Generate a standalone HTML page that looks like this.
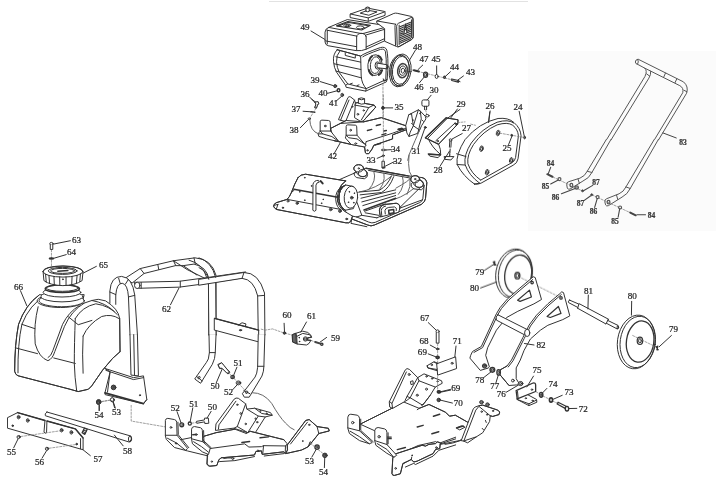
<!DOCTYPE html>
<html><head><meta charset="utf-8"><title>Parts diagram</title>
<style>
html,body{margin:0;padding:0;background:#fff;}
body{width:716px;height:479px;overflow:hidden;font-family:"Liberation Serif",serif;}
svg{display:block;}
svg path,svg ellipse,svg circle,svg line,svg polyline,svg rect,svg polygon{vector-effect:non-scaling-stroke;}
.t{font-family:"Liberation Serif",serif;}
.d{stroke-dasharray:2 1.5;stroke:#777;stroke-width:0.7;}
.f{fill:#fff;}
.k{fill:#333;}
.g{stroke:#888;stroke-width:0.7;}
</style></head><body>
<svg width="716" height="479" viewBox="0 0 716 479">
<rect x="0" y="0" width="716" height="479" fill="#ffffff" stroke="none"/>
<rect x="528" y="51" width="188" height="180" fill="#fbfbfb" stroke="none"/>
<line x1="269" y1="1.5" x2="528" y2="1.5" stroke="#e2e2e2" stroke-width="1"/>
<g fill="none" stroke="#333" stroke-width="1" stroke-linecap="round" stroke-linejoin="round" style="filter:blur(0.3px)">
<g transform="translate(320 0) scale(0.13986)"><!-- fuel tank -->
<path class="f" d="M62,196 L195,140 L440,178 Q458,186 460,205 L462,292 L330,352 Q300,366 258,362 L58,327 Q38,322 36,300 L36,230 Q38,203 62,196 Z"/>
<path d="M62,196 L285,238 Q300,242 315,238 L456,198"/>
<path d="M50,216 L262,258 M330,250 L460,210"/>
<path d="M52,215 L52,314 M262,262 Q265,238 300,238 Q328,240 330,262 M262,262 L262,358 M330,262 L330,352"/>
<path d="M38,292 L262,334 M330,336 L462,276"/>
<path stroke-width="1.1" d="M118,185 L200,154 L360,181 L298,214 Z"/>
<ellipse cx="195" cy="181" rx="25" ry="10"/><ellipse cx="195" cy="181" rx="12" ry="5"/>
<ellipse cx="288" cy="196" rx="27" ry="11"/>
<path d="M128,188 L200,160 L345,184"/>
<!-- air cleaner -->
<path class="f" d="M218,100 L333,60 Q342,56 352,60 L462,82 Q468,86 465,110 L345,152 L218,126 Z"/>
<path d="M218,100 L345,128 L465,84 M345,128 L345,152"/>
<path d="M290,93 L340,73 L408,85 L352,108 Z"/>
<path class="f" d="M329,80 L329,54 Q340,46 352,54 L352,82 Q340,88 329,80 Z"/>
<path d="M329,56 Q340,62 352,56"/>
<!-- muffler -->
<path class="f" d="M408,150 L528,96 Q540,92 552,95 L655,118 Q666,122 666,136 L667,262 Q667,276 655,283 L565,334 Q555,338 548,333 L462,295 L462,205 L408,165 Z"/>
<path d="M408,150 L540,173 M548,186 Q548,173 560,167 L650,126 Q663,121 664,136 L666,262 Q666,275 655,282 L565,333 Q553,338 552,325 Z"/>
<path d="M540,173 Q535,180 536,195 L540,325"/>
<path stroke-width="1.1" d="M572,192 L602,179 M618,172 L648,159 M572,205 L602,192 M618,185 L648,172 M572,218 L598,207 M622,196 L648,185 M572,231 L596,221 M624,209 L648,198 M572,244 L594,235 M626,221 L648,211 M572,257 L648,224 M572,270 L648,237 M572,283 L648,250 M572,296 L648,263 M572,309 L648,276"/>
<path stroke-width="1.2" d="M610,172 L600,240 M612,172 L622,232 M604,215 L620,208"/>
<path d="M566,180 L566,318 M654,142 L655,270"/></g>
<g transform="translate(300 40) scale(0.16760)"><!-- crankcase & cylinder -->
<path class="f" d="M222,58 L362,96 Q380,80 480,45 Q510,38 518,60 Q527,100 524,180 L520,235 L515,250 L392,305 L275,282 L272,270 L218,192 Q203,165 200,130 Q195,85 222,58 Z"/>
<path d="M240,62 Q215,90 218,130 Q220,165 235,195 L285,262"/>
<path d="M222,58 L362,96 L365,215 Q368,262 395,290"/>
<path d="M214,100 L362,132 M204,142 L363,176 M214,185 L366,226"/>
<path d="M272,270 L285,262 L395,290 L505,240 M395,290 L392,305 M505,240 L520,235"/>
<path d="M375,100 Q390,88 480,56 Q505,50 510,70 Q517,110 514,180 L512,232"/>
<path d="M300,262 L312,258 M340,272 L352,268"/>
<path d="M270,78 L270,92 L330,108 L330,92"/>
<!-- flange -->
<ellipse class="f" cx="447" cy="150" rx="42" ry="62" transform="rotate(6 447 150)"/>
<ellipse cx="450" cy="150" rx="30" ry="50" transform="rotate(6 450 150)"/>
<path stroke-width="2" stroke="#333" d="M413,122 Q417,104 430,96 M410,178 Q416,202 432,210 M466,94 Q482,100 488,118 M470,208 Q484,200 490,180"/>
<ellipse class="f" cx="462" cy="152" rx="14" ry="22"/>
<path class="f" d="M462,138 L520,148 Q526,160 520,172 L462,166 Z"/>
<ellipse cx="520" cy="160" rx="5" ry="12"/>
<path d="M497,232 L500,246 L514,240"/>
<!-- pulley 48 -->
<ellipse class="f" cx="591" cy="184" rx="58" ry="96" transform="rotate(7 591 184)"/>
<ellipse class="f" cx="603" cy="180" rx="60" ry="97" transform="rotate(7 603 180)"/>
<ellipse cx="602" cy="181" rx="50" ry="84" transform="rotate(7 602 181)"/>
<ellipse cx="597" cy="182" rx="55" ry="92" transform="rotate(7 597 182)"/>
<ellipse cx="612" cy="183" rx="29" ry="42" stroke="#444" stroke-width="1.6" transform="rotate(7 612 183)"/>
<ellipse cx="613" cy="183" rx="19" ry="28" transform="rotate(7 613 183)"/>
<ellipse cx="614" cy="183" rx="10" ry="15" transform="rotate(7 614 183)"/>
<!-- small parts -->
<path class="d" d="M495,262 L495,477"/>
<ellipse class="k" cx="495" cy="405" rx="8" ry="9"/>
<path d="M507,405 L553,405"/>
<ellipse cx="210" cy="275" rx="9" ry="9" fill="#555"/>
<ellipse cx="230" cy="300" rx="8" ry="9" stroke-width="1.4"/>
<ellipse cx="252" cy="328" rx="8" ry="10"/><ellipse cx="252" cy="328" rx="3" ry="4"/>
<path d="M120,248 L198,272 M165,318 L221,303 M215,365 L247,337 M57,340 L92,376 M688,62 L652,122"/>
<path class="f" d="M92,372 L108,370 L112,382 L104,386 L98,406 L88,404 L94,386 Z"/></g>
<g transform="translate(0 0) scale(1.00000)"><path d="M311,31 L325,39.5"/></g>
<g transform="translate(290 95) scale(0.16760)"><!-- back-left upright bracket -->
<path class="f" d="M290,145 L346,15 Q352,6 362,12 L385,30 L390,48 L412,44 L500,60 L512,72 L440,152 L425,160 L340,160 Z"/>
<path d="M385,30 L332,158 M390,48 L385,135 L425,160 M390,48 L412,44 L500,60 L512,72 L440,152 M385,60 L470,75 L500,60 M470,75 L425,150"/>
<path d="M302,150 L352,30"/>
<circle cx="405" cy="115" r="5"/><circle cx="440" cy="92" r="4"/><circle cx="372" cy="70" r="3"/>
<path class="f" d="M408,48 L408,22 Q425,12 445,22 L445,52 Q425,60 408,48 Z"/><path d="M408,24 Q425,34 445,24"/>
<!-- plate -->
<path class="f" d="M245,198 L300,170 L335,152 L440,160 L545,135 L705,188 L700,205 L612,238 L612,262 L500,300 L490,322 L470,350 Q452,352 450,345 L445,310 L365,295 L300,280 L262,272 Z"/>
<path d="M245,198 L300,170 L335,152 M440,160 L545,135 L705,188 L700,205 L612,238 L612,262 L500,300 L490,322 L470,350 Q452,352 450,345 L445,310 M455,278 L612,228 L700,195 M455,278 L445,310 M300,170 L440,160"/>
<path stroke-width="1.4" d="M462,212 L488,205 M515,182 L540,176 M548,238 L572,230 M645,205 L668,198 M510,298 L540,290 M560,215 L575,212"/>
<circle cx="462" cy="330" r="4"/>
<!-- left tab -->
<path class="f" d="M180,215 L180,160 Q180,150 190,150 L230,152 Q240,153 240,163 L242,215 L292,278 L262,272 L220,262 L172,247 L168,232 Z"/>
<path d="M180,215 L242,215 M180,215 L195,232 L250,248 L292,278 M168,232 L195,232"/>
<circle cx="210" cy="185" r="5"/>
<!-- middle tab -->
<path class="f" d="M335,240 L335,188 Q335,178 345,178 L390,180 Q398,181 398,190 L400,240 L445,292 L455,298 L445,310 L365,295 L332,258 Z"/>
<path d="M335,240 L400,240 M335,240 L350,255 L400,262 L445,292 M262,272 L365,295"/>
<circle cx="362" cy="210" r="5"/><ellipse cx="392" cy="290" rx="6" ry="4"/>
<!-- 36,37,38 -->
<path class="f" d="M150,42 L168,40 L172,52 L165,56 L158,78 L148,76 L154,56 Z"/>
<path d="M130,25 L152,42"/>
<path stroke-width="1.5" d="M125,100 L148,103"/><path d="M78,97 L122,100"/>
<ellipse cx="115" cy="142" rx="7" ry="5"/><path d="M62,195 L108,148"/>
<path d="M118,148 Q120,215 170,232" stroke="#666"/>
<path class="d" d="M155,80 L118,138"/>
<!-- 34 33 32 -->
<ellipse cx="558" cy="328" rx="14" ry="5"/><path d="M575,328 L605,326"/>
<ellipse class="k" cx="557" cy="362" rx="6" ry="5"/><path d="M520,378 L550,365"/>
<path class="f" d="M551,395 L563,395 L563,432 L551,432 Z"/><ellipse cx="557" cy="434" rx="9" ry="4"/><path d="M568,425 L622,398"/>
<path class="d" d="M557,0 L557,60 M557,95 L557,320 M557,340 L557,392"/>
<path d="M300,285 L262,352"/></g>
<g transform="translate(380 55) scale(0.16760)"><path class="d" d="M185,88 L480,160"/>
<path stroke-width="2" stroke="#333" d="M202,91 L232,98"/><path d="M255,60 L226,88"/>
<ellipse class="f" cx="272" cy="118" rx="12" ry="16" stroke-width="1.3"/><ellipse cx="273" cy="118" rx="6" ry="9"/><path d="M236,165 L264,131"/>
<ellipse class="f" cx="338" cy="128" rx="9" ry="12"/><path d="M338,65 L338,116"/>
<ellipse cx="385" cy="133" rx="5" ry="7" stroke-width="1.3"/><path d="M420,100 L390,128"/>
<path class="f" stroke-width="1.2" d="M428,143 L468,152 L466,162 L428,152 Z"/><ellipse cx="468" cy="157" rx="4" ry="6"/><path d="M498,125 L464,150"/>
<!-- 30 cap -->
<path class="f" d="M250,276 Q250,268 260,268 L284,268 Q292,268 292,276 L292,298 Q292,306 284,306 L260,306 Q250,306 250,298 Z"/>
<path d="M266,306 L266,326 M278,306 L278,326"/><path d="M305,240 L282,268"/>
<path class="d" d="M272,326 L278,352"/>
<path d="M462,322 L420,378 M655,340 L647,405"/></g>
<g transform="translate(370 100) scale(0.12570)"><path class="f" d="M285,200 L308,118 L385,78 L400,88 L440,130 L445,150 L410,205 L395,240 L380,265 L310,290 L295,265 Z"/>
<path d="M330,108 L345,205 L320,255 L310,290 M385,78 L345,205 M308,118 L330,108 M345,205 L395,240 M400,88 L408,150 L380,265"/>
<circle class="k" cx="340" cy="160" r="3"/><circle class="k" cx="398" cy="108" r="3"/><path d="M330,185 L340,195 M415,160 L425,170"/>
<path stroke-width="1.4" d="M225,232 L262,228 M235,240 L270,236"/>
<ellipse class="f" cx="456" cy="125" rx="14" ry="10"/>
<ellipse class="k" cx="440" cy="218" rx="8" ry="7"/>
<path d="M382,380 L435,228"/>
<path stroke="#666" d="M395,240 Q355,330 330,390 Q305,440 300,480"/></g>
<g transform="translate(400 100) scale(0.18855)"><path stroke="#666" d="M48,292 Q42,340 50,380 Q58,400 72,412"/></g>
<g transform="translate(400 100) scale(0.18855)"><!-- belt cover 26 -->
<path class="f" d="M395,446 Q335,405 303,342 Q295,290 345,210 Q420,120 520,98 Q575,92 605,120 Q640,150 642,190 L626,312 Q622,336 600,346 L430,441 Q410,450 395,446 Z"/>
<path d="M422,441 Q365,400 345,342 Q338,290 378,228 Q435,150 515,118 Q575,100 603,122"/>
<path d="M428,425 Q378,390 360,338 Q354,292 390,236 Q440,165 515,132 Q570,115 598,134 Q625,155 628,190 L613,305 Q610,325 592,333 L428,425"/>
<path d="M300,285 L350,300 M303,342 L345,345 M395,446 L422,441"/>
<ellipse cx="520" cy="175" rx="9" ry="15" transform="rotate(15 520 175)"/><ellipse cx="521" cy="176" rx="5" ry="10" transform="rotate(15 521 176)"/>
<ellipse cx="432" cy="258" rx="9" ry="15" transform="rotate(15 432 258)"/><ellipse cx="433" cy="259" rx="5" ry="10" transform="rotate(15 433 259)"/>
<ellipse cx="590" cy="320" rx="9" ry="15" transform="rotate(15 590 320)"/><ellipse cx="591" cy="321" rx="5" ry="10" transform="rotate(15 591 321)"/>
<ellipse cx="462" cy="383" rx="9" ry="15" transform="rotate(15 462 383)"/><ellipse cx="463" cy="384" rx="5" ry="10" transform="rotate(15 463 384)"/>
<path class="d" d="M530,176 L655,198"/>
<ellipse class="k" cx="593" cy="188" rx="4" ry="6"/><path d="M576,236 L592,196"/>
<ellipse cx="661" cy="199" rx="5" ry="7" fill="#666"/><path d="M632,60 L659,192"/>
<path d="M478,58 L470,120"/>
<!-- belt guard 29 -->
<path class="f" d="M135,200 L245,95 L308,105 L306,128 L205,234 Z"/>
<path stroke-width="1.5" stroke="#333" d="M135,200 L245,95"/>
<path d="M245,95 L308,105 L306,128 L205,234 L135,200 M292,122 L190,216 M292,122 L306,128 M248,100 L150,200"/>
<circle cx="297" cy="128" r="4"/><circle cx="200" cy="218" r="4"/>
<path d="M150,206 Q170,252 212,286 M205,234 Q218,262 216,290 M150,286 L216,290 L202,306 L160,298 Z" />
<path stroke-width="1.4" d="M152,288 L214,292"/>
<path d="M236,300 L286,300 L270,318 L240,315 Z M262,300 L266,262"/>
<ellipse cx="268" cy="212" rx="7" ry="6"/><path d="M264,218 L262,250 M272,218 L270,250"/><path class="d" d="M266,250 L266,300"/>
<path d="M330,178 L276,207 M212,352 L262,272 M318,50 L250,98"/>
<path class="d" d="M305,120 L345,116 M375,128 L400,134"/></g>
<g transform="translate(335 160) scale(0.16760)"><path class="f" d="M20,120 L185,48 L440,95 L520,105 Q545,110 548,135 L540,230 Q538,250 515,265 L235,388 Q215,398 195,388 L100,352 L0,330 L0,140 Z"/>
<path stroke-width="1.3" d="M185,50 L440,96"/><path d="M200,62 L450,108"/>
<path d="M520,105 Q545,110 548,135 L540,230 Q538,250 515,265 L235,388 Q215,398 195,388 L100,352"/>
<path d="M532,150 L524,232 Q522,246 506,254 L240,372 Q220,380 200,370 L130,340"/>
<path d="M505,168 L380,290 L520,238 M380,290 L250,345"/>
<!-- ribs -->
<path stroke="#666" d="M232,68 Q250,125 200,178 M292,78 Q305,150 240,200 M350,88 Q362,145 318,190 M402,98 Q420,155 378,205 M448,110 Q455,160 430,205 M130,195 Q250,172 332,100 M180,240 Q300,210 395,150 Q430,130 448,112 M300,250 Q400,230 470,170"/>
<!-- belt -->
<path class="f" stroke="none" d="M146,191 L266,180 Q312,154 338,94 L362,100 Q360,150 362,228 L173,298 Z"/>
<path d="M146,191 L266,180 Q312,154 338,94 M150,208 L278,194 Q325,168 350,100 M155,228 L362,178 M160,250 L362,196 M166,272 L362,212"/>
<path stroke-width="1.5" stroke="#333" d="M173,298 L362,228"/>
<path d="M176,306 L300,262"/>
<!-- lifting handle -->
<path class="f" d="M270,338 L265,300 Q268,270 300,265 L365,258 Q392,262 386,292 L380,310 Z"/>
<path d="M270,338 L265,300 Q268,270 300,265 L365,258 Q392,262 386,292 M300,322 L298,302 Q300,286 320,283 L355,280 Q372,284 366,302 M280,338 L276,302 Q278,280 302,275"/>
<path stroke-width="1.5" d="M320,300 L350,296 L352,315 L322,320 Z"/>
<!-- shock mounts -->
<path class="f" d="M112,52 Q112,30 140,28 Q168,28 170,48 L192,78 Q192,98 168,100 Q150,100 140,90 Z"/>
<ellipse cx="141" cy="50" rx="29" ry="22"/><ellipse cx="166" cy="78" rx="26" ry="21"/><circle cx="142" cy="50" r="4"/>
<path d="M115,75 Q110,95 130,105 L175,112 Q195,105 195,88"/>
<path class="f" d="M452,118 Q452,95 478,93 Q504,93 506,114 L528,142 Q528,162 505,165 Q488,165 478,155 Z"/>
<ellipse cx="478" cy="115" rx="26" ry="21"/><ellipse cx="503" cy="142" rx="25" ry="21"/><circle cx="478" cy="114" r="4"/>
<path d="M455,140 Q450,162 470,172 L515,178 Q532,170 532,152"/>
<!-- exciter disc -->
<path class="f" d="M60,150 Q20,170 22,230 Q25,280 60,300 L110,290 L130,220 L110,160 Z"/>
<path d="M62,150 Q22,172 24,230 Q27,280 62,300 M50,155 Q12,178 14,232 Q17,280 50,300 M38,160 Q2,185 4,235 Q7,282 38,302"/>
<ellipse class="f" cx="95" cy="222" rx="40" ry="66" transform="rotate(5 95 222)"/>
<circle cx="100" cy="225" r="8"/><circle cx="100" cy="225" r="3" class="k"/><circle cx="85" cy="190" r="2" class="k"/><circle cx="112" cy="255" r="2" class="k"/><circle cx="80" cy="252" r="2" class="k"/><circle cx="115" cy="198" r="2" class="k"/>
<path d="M130,250 L160,330 L130,340 M60,300 L75,330 L130,340 M100,352 L95,378 L190,398"/>
<path stroke-width="1.5" d="M62,355 L80,348"/>
<path d="M160,330 L250,345 M180,315 L260,330"/></g>
<g transform="translate(262 165) scale(0.16760)"><path class="f" d="M215,75 Q230,55 260,55 L500,95 L470,125 L450,215 L490,275 L540,305 L530,335 Q520,350 500,345 L85,265 L70,250 Q65,235 85,225 L150,205 Q165,190 175,165 Q195,110 215,75 Z"/>
<path d="M215,75 Q230,55 260,55 L500,95 M215,75 Q195,110 175,165 Q165,190 150,205 L85,225 Q65,235 70,250 L85,265 L500,345 Q520,350 530,335 L540,305"/>
<path stroke-width="1.5" stroke="#333" d="M190,145 L452,192"/>
<path d="M150,205 L470,265 M95,235 L85,265 M75,240 L95,235 M175,165 L192,150"/>
<path class="f" d="M305,112 Q312,90 337,92 L342,102 Q326,102 322,120 L322,270 Q314,282 305,272 Z"/>
<path stroke-width="2" stroke="#333" d="M350,96 L362,110"/>
<circle cx="155" cy="215" r="6"/><circle cx="210" cy="228" r="7"/><circle cx="210" cy="228" r="3"/><circle class="k" cx="125" cy="255" r="4"/><circle cx="410" cy="265" r="8"/><circle cx="410" cy="265" r="3"/><circle cx="465" cy="275" r="8"/><circle cx="465" cy="275" r="3"/><ellipse class="k" cx="505" cy="322" rx="6" ry="4"/>
<circle class="k" cx="255" cy="76" r="2"/><circle class="k" cx="295" cy="125" r="2"/><circle class="k" cx="395" cy="155" r="2"/><circle class="k" cx="255" cy="210" r="2"/><circle class="k" cx="355" cy="228" r="2"/><circle class="k" cx="225" cy="160" r="2"/><circle class="k" cx="365" cy="205" r="2"/>
<path d="M500,95 Q470,110 455,160"/>
<g transform="translate(435.6 -29.8)"><path d="M62,150 Q22,172 24,230 Q27,280 62,300 M50,155 Q12,178 14,232 Q17,280 50,300 M38,160 Q2,185 4,235 Q7,282 38,302"/></g></g>
<g transform="translate(536 55) scale(0.25140)"><g stroke="#555">
<path fill="#fbfbfb" d="M405,17 Q395,18 395,28 Q396,36 404,37 L432,52 Q444,62 433.6,85 L278.8,340 L297.2,340 L449,92 Q458,78 456,64 L572,122 Q588,130 583.7,150 L469.3,340 L486,340 L599,152 Q608,125 588,108 Z"/>
<path stroke="#fbfbfb" stroke-width="1.5" d="M280,340 L296,340 M470.5,340 L485,340"/>
<path d="M432,52 L456,64 M404,37 Q410,28 405,17 M515,72 L508,88 M560,95 L553,110 M440,75 L452,84 M588,140 L600,146"/>
<path d="M558,330 L505,310" stroke="#444"/>
</g></g>
<g transform="translate(536 140) scale(0.19553)"><g stroke="#555">
<path fill="#fbfbfb" d="M360,-3 L262,160 Q250,185 225,195 L168,213 Q155,216 157,228 L160,246 Q163,254 174,251 L240,210 Q272,196 286,166 L383.5,-3"/>
<path fill="#fbfbfb" d="M605,-3 L460,240 Q448,265 425,275 L362,300 Q350,304 352,316 L356,332 Q360,340 370,336 L440,292 Q468,278 482,248 L626,-3"/>
<path d="M215,200 L222,222 M412,282 L418,304 M262,160 L286,166 M460,240 L482,248"/>
<ellipse cx="181" cy="231" rx="7" ry="9" stroke-width="1.3"/><ellipse cx="371" cy="318" rx="7" ry="9" stroke-width="1.3"/>
<path class="d" d="M88,190 L240,262 M285,280 L500,380"/>
<path stroke-width="2" stroke="#444" d="M58,175 L84,188"/><path stroke-width="2" stroke="#444" d="M482,371 L510,385"/>
<circle class="f" cx="120" cy="200" r="7.5" stroke-width="1.2"/><circle cx="208" cy="243" r="9" fill="#999" stroke-width="1.2"/><circle class="k" cx="238" cy="260" r="5"/><circle class="k" cx="285" cy="280" r="5"/><circle class="f" cx="315" cy="292" r="7.5" stroke-width="1.2"/><circle class="f" cx="430" cy="345" r="7.5" stroke-width="1.2"/>
<g stroke="#444" stroke-width="1.1"><path d="M75,140 L63,172 M75,225 L114,205 M130,275 L200,248 M290,232 L245,258 M245,310 L280,285 M300,345 L313,300 M420,395 L428,352 M560,382 L516,382"/></g>
</g></g>
<g transform="translate(0 295) scale(0.19553)"><path class="f" d="M200,0 Q130,50 95,150 Q75,250 75,390 Q78,408 92,413 L358,482 L400,494 L452,482 L469,465 L525,384 L576,324 L614,290 L612,120 Q605,70 540,30 Q500,15 470,28 L420,45 L430,0 Z"/>
<path d="M200,0 Q130,50 95,150 Q75,250 75,390 Q78,408 92,413 L358,482 L400,494 L452,482 L469,465 L525,384 L576,324 L614,290"/>
<path d="M235,0 Q150,50 112,150 Q90,250 92,398"/>
<path d="M195,60 Q172,150 180,250 Q200,320 245,336 Q268,328 280,290 L330,160 Q365,80 430,42"/>
<path d="M246,320 Q262,312 270,285 L320,150 Q352,85 405,55 M112,150 L178,172"/>
<path d="M78,270 L192,300 M275,322 L385,350 M385,120 Q380,250 380,350 Q382,420 392,490 M425,210 Q420,300 425,400"/>
<path d="M385,120 Q420,60 490,45 Q560,55 600,100 M350,112 L400,152 L470,130 M470,28 Q540,40 585,85"/>
<path d="M425,210 Q450,150 520,110 Q570,95 608,120 M614,290 L612,120"/>
<ellipse class="f" cx="310" cy="30" rx="120" ry="34"/></g>
<g transform="translate(0 232) scale(0.16760)"><ellipse class="f" cx="368" cy="410" rx="135" ry="36"/>
<ellipse class="f" cx="370" cy="385" rx="125" ry="32"/>
<ellipse class="f" cx="370" cy="360" rx="113" ry="28"/>
<ellipse class="f" cx="372" cy="338" rx="102" ry="23" stroke-width="1.6" stroke="#333"/>
<ellipse cx="372" cy="334" rx="96" ry="20"/>
<path class="f" d="M257,235 L262,290 Q300,318 375,320 Q450,318 490,290 L495,240 Q495,205 375,203 Q257,205 257,235 Z"/>
<ellipse cx="376" cy="236" rx="119" ry="33"/>
<ellipse cx="374" cy="232" rx="86" ry="21"/><ellipse cx="374" cy="232" rx="72" ry="15"/>
<path stroke-width="1.5" d="M345,234 L405,230"/>
<path d="M272,252 L276,300 M292,260 L296,308 M322,266 L324,315 M356,268 L357,318 M394,268 L394,318 M430,265 L428,313 M460,258 L456,305 M480,250 L476,295"/>
<circle class="k" cx="375" cy="282" r="2.5"/>
<path class="d" d="M307,106 L307,205"/>
<ellipse class="f" cx="307" cy="70" rx="10" ry="8"/><path class="f" d="M300,76 L300,104 L315,104 L315,76"/>
<ellipse cx="307" cy="158" rx="13" ry="4" stroke-width="1.3"/>
<path d="M420,52 L320,72 M395,135 L320,157 M575,205 L497,245 M122,350 L160,440"/></g>
<g transform="translate(0 396) scale(0.19553)"><path class="f" d="M240,82 L670,205 Q678,220 662,236 L232,101 Q226,92 240,82 Z"/>
<ellipse cx="665" cy="220" rx="8" ry="15"/>
<path class="f" d="M40,110 L90,85 L230,125 L225,185 Q232,194 238,188 L240,128 L385,168 L425,215 L425,275 L40,165 Z"/>
<path stroke-width="1.5" stroke="#333" d="M90,85 L230,125 M240,128 L385,168 L425,215"/>
<path d="M412,218 L412,270"/>
<ellipse cx="95" cy="108" rx="7" ry="9"/><ellipse cx="142" cy="125" rx="7" ry="9"/><ellipse cx="315" cy="175" rx="7" ry="9"/><ellipse cx="365" cy="186" rx="7" ry="9"/>
<ellipse cx="95" cy="108" rx="3" ry="4"/><ellipse cx="142" cy="125" rx="3" ry="4"/><ellipse cx="315" cy="175" rx="3" ry="4"/><ellipse cx="365" cy="186" rx="3" ry="4"/>
<circle class="k" cx="65" cy="152" r="4"/><circle class="k" cx="392" cy="246" r="4"/>
<path class="f" stroke-width="1.3" d="M420,188 L432,164 L446,170 L434,196 Z"/><path d="M424,182 L438,188 M428,174 L442,180"/>
<circle class="f" cx="95" cy="210" r="8"/><circle cx="100" cy="208" r="4"/><circle class="f" cx="240" cy="270" r="8"/><circle cx="245" cy="268" r="4"/>
<path class="d" d="M108,207 L308,178 M252,267 L388,248"/>
<path d="M70,265 L92,220 M215,318 L238,280 M462,305 L422,273 M630,255 L585,200"/>
<circle cx="505" cy="30" r="12" fill="#555"/><circle cx="505" cy="30" r="5" fill="#fff"/><path d="M507,45 L507,75"/>
<circle class="f" cx="575" cy="20" r="10"/><path d="M580,32 L590,62"/>
<path class="d" d="M520,28 L562,22"/></g>
<g transform="translate(105 250) scale(0.19553)"><!-- back tube -->
<path class="f" d="M110,140 L180,95 L350,55 L460,40 Q545,45 568,130 L568,436 L532,436 L532,150 Q520,85 455,72 L400,80 L360,80 L200,120 L140,168 Z"/>
<path d="M350,55 L420,100 L525,152 M400,80 L470,128 M430,52 Q500,70 520,140 M180,95 L200,120 M270,74 L275,100 M350,55 L362,80 M455,40 L462,72"/>
<!-- front bar -->
<path class="f" d="M150,165 L380,160 L530,140 L720,112 L720,140 L530,170 L380,190 L165,196 Z"/>
<ellipse class="f" cx="165" cy="181" rx="14" ry="16"/>
<path d="M385,160 L385,190 M530,140 L532,170 M185,166 L185,196"/>
<!-- left inverted U -->
<path class="f" d="M25,272 L25,210 Q30,135 85,135 Q140,140 152,230 L166,436 L128,436 L120,240 Q116,175 88,170 Q60,170 55,230 L55,278"/>
<path d="M25,215 L55,228 M152,232 L120,240 M70,145 L78,172 M120,150 L104,175"/>
<path d="M335,280 L378,195"/></g>
<g transform="translate(200 250) scale(0.19553)"><path class="f" d="M45,150 L80,140 L82,436 L47,436 Z"/>
<path class="f" d="M-5,150 L225,115 Q300,115 330,220 L332,436 L298,436 L295,235 Q275,150 215,145 L-5,180 Z"/>
<path d="M225,115 L215,145 M295,235 L330,232"/>
<path d="M-5,40 Q60,60 80,140 M-5,90 Q35,110 45,150"/>
<path class="f" d="M75,350 L300,410 L300,470 L75,410 Z"/>
<path stroke-width="1.4" d="M75,350 L300,410"/>
<path d="M195,385 L215,372 L235,378 L232,392"/><ellipse class="k" cx="207" cy="410" rx="6" ry="3"/></g>
<g transform="translate(95 335) scale(0.19553)"><path class="f" stroke="none" d="M179,-2 L184,205 L222,209 L217,-2 Z"/><path d="M179,-2 L184,205 L222,209 L217,-2 M198,-2 L202,206"/>
<path class="f" d="M51,171 L197,218 L248,209 L265,330 L248,352 L52,305 L51,295 L77,190 Z"/>
<path d="M56,181 L197,228 L248,218 M77,190 L64,292 M248,350 L265,330"/>
<path stroke-width="1.6" stroke="#333" d="M51,296 L248,351"/>
<circle cx="95" cy="268" r="12" fill="#555"/><circle cx="92" cy="266" r="5" fill="#ddd"/>
<circle class="k" cx="230" cy="308" r="3"/>
<circle class="f" cx="88" cy="330" r="9"/><circle cx="18" cy="345" r="10" fill="#555"/><circle cx="18" cy="345" r="4" fill="#fff"/>
<path class="d" d="M32,342 L78,332 M185,360 L185,440 L360,470"/>
<path d="M22,360 L22,385 M92,342 L100,372"/>
<!-- back post foot (left-back) -->
<path class="f" stroke="none" d="M583,-2 L585,90 Q582,130 570,140 L510,225 L540,247 L600,150 Q615,120 615,90 L619,-2 Z"/><path d="M583,-2 L585,90 Q582,130 570,140 L510,225 L540,247 L600,150 Q615,120 615,90 L619,-2"/>
<path d="M585,90 L615,90 M520,212 L548,235"/><ellipse cx="532" cy="218" rx="5" ry="7" transform="rotate(35 532 218)"/>
<!-- bolt 50 upper -->
<path class="f" d="M630,150 L648,142 L660,158 L690,190 L680,200 L650,170 L640,172 Z"/>
<path d="M620,245 L650,175"/>
<!-- lower row 52 51 50 --></g>
<g transform="translate(215 335) scale(0.19553)"><path class="f" stroke="none" d="M221,-2 L218,165 Q215,200 205,215 L140,300 L150,318 L175,318 L240,210 Q250,185 250,160 L255,-2 Z"/><path d="M221,-2 L218,165 Q215,200 205,215 L140,300 L150,318 L175,318 L240,210 Q250,185 250,160 L255,-2"/>
<path d="M218,160 L250,160 M148,285 L178,300"/><ellipse cx="162" cy="293" rx="5" ry="7" transform="rotate(35 162 293)"/>
<path class="f" d="M18,152 L34,142 L45,155 L72,188 L62,196 L36,170 L26,170 Z"/>
<ellipse cx="90" cy="215" rx="9" ry="8" stroke-width="1.3"/><ellipse cx="90" cy="215" rx="4" ry="3"/>
<ellipse cx="120" cy="245" rx="12" ry="10"/><ellipse cx="120" cy="245" rx="5" ry="4"/>
<path class="d" d="M72,195 L160,290"/>
<path d="M112,165 L95,207 M90,280 L115,253"/>
<path stroke="#666" d="M190,295 Q250,295 290,350 Q330,420 360,450 Q385,478 405,485"/></g>
<g transform="translate(265 300) scale(0.12570)"><path class="d" d="M-30,232 L0,240 L60,230 L150,262 L220,280 M368,322 L400,335"/>
<circle cx="155" cy="263" r="10" fill="#444"/>
<path class="f" d="M220,275 L245,265 L300,248 L340,258 L365,280 L370,296 L342,300 L338,320 L366,320 L350,346 L330,358 L255,350 L222,335 Z"/>
<path fill="#666" d="M220,275 L245,265 L250,345 L222,335 Z"/>
<path d="M245,265 L252,290 L300,266 L355,276 L368,294 M252,290 L256,350"/>
<circle cx="322" cy="310" r="17"/><circle cx="322" cy="310" r="8"/><path d="M338,302 L368,298 M338,318 L364,322"/>
<circle class="k" cx="272" cy="300" r="2.5"/><circle class="k" cx="274" cy="330" r="2.5"/>
<path stroke-width="2" stroke="#444" d="M400,334 L440,347"/><circle class="f" cx="452" cy="352" r="9" stroke-width="1.3"/>
<path d="M152,185 L155,252 M330,175 L285,255 M490,298 L438,335"/></g>
<g transform="translate(150 396) scale(0.17458)"><!-- back-left upright -->
<path class="f" d="M375,195 L378,160 L482,18 Q492,8 506,13 L548,45 L555,75 L600,70 L690,95 L700,110 L660,120 L600,215 L560,210 L480,185 Z"/>
<path d="M548,45 L500,175 L480,185 M392,190 L395,165 L492,30 M555,75 L620,115 L660,120 M620,115 L560,210 M600,70 L640,100 L700,110 M500,175 L560,210"/>
<circle cx="500" cy="50" r="4"/><circle cx="520" cy="100" r="5"/><circle cx="548" cy="160" r="4"/><circle cx="605" cy="130" r="4"/><circle cx="614" cy="150" r="4"/><circle cx="632" cy="85" r="3"/><circle cx="668" cy="100" r="3"/>
</g><g transform="translate(200 425) scale(0.139665)">
<path class="f" d="M30,80 L115,55 L250,30 L330,60 L360,45 L540,90 L600,105 L625,135 L612,150 L610,205 L600,192 L445,210 L440,185 L400,190 L390,215 L150,235 L135,250 L120,290 L70,295 L50,280 L55,180 L20,100 Z"/>
<path d="M30,80 L115,55 L250,30 M330,60 L360,45 L540,90 L600,105 M75,168 L320,135 L350,158 L440,155 L455,148 L612,150 M455,148 L450,200 M55,180 L75,168 M55,180 L50,280 Q55,295 70,295 L120,290 L135,250 L150,235 L390,215 L400,190 L440,185 L445,210 L600,192 L610,205 M140,262 L250,255 L390,226 M460,222 L600,205"/>
<path stroke-width="1.5" d="M300,125 L355,118 M430,92 L490,85"/>
<circle cx="85" cy="262" r="5"/><circle cx="415" cy="185" r="6"/><circle cx="235" cy="240" r="7"/><path d="M170,240 L200,236 L228,236"/>
</g><g transform="translate(150 396) scale(0.174581)">

<path d="M205,312 L216,315 L331,343 M178,250 L238,238"/>
<!-- tab 1 -->
<path class="f" d="M88,225 L88,140 Q90,128 102,128 L140,135 Q152,138 153,150 L155,225 L215,300 L205,312 L140,295 L95,250 Z"/>
<path d="M160,150 L162,222 L222,296 M88,225 L155,225 M100,242 L150,268 L205,312"/>
<circle cx="120" cy="180" r="5"/><ellipse class="k" cx="150" cy="272" rx="5" ry="3"/>
<!-- tab 2 -->
<path class="f" d="M238,245 L238,190 Q240,175 255,175 L290,182 Q300,186 300,198 L302,262 L345,300 L335,335 L300,320 L245,275 Z"/>
<path d="M307,198 L309,258 L350,296 M238,245 L302,262 M250,262 L295,290 L335,322"/>
<path stroke-width="1.5" d="M245,222 L262,220"/><circle cx="265" cy="221" r="5"/>
<!-- bolts -->
<circle class="f" cx="182" cy="165" r="11" stroke-width="1.3"/><circle cx="183" cy="165" r="5" stroke-width="0.6"/>
<circle class="f" cx="228" cy="158" r="9" stroke-width="1.3"/>
<path class="f" d="M268,145 L312,137 L312,127 L334,126 L337,156 L314,158 L313,148 L270,156 Z"/>
<path class="d" d="M240,156 L268,151"/>
<path d="M155,90 L178,154 M245,68 L230,148 M350,88 L326,128"/></g>
<g transform="translate(235 396) scale(0.17458)"><path class="f" d="M300,280 L405,140 L425,135 L470,175 L535,185 L540,200 L480,215 L420,290 L380,310 L290,330 L300,310 Z"/>
<path d="M300,280 L300,310 L290,330 L380,310 Q405,300 420,290 L480,215 L540,200 L535,185 L470,175 L425,135 L405,140 L300,280 M470,175 L480,215 M318,275 L415,150 M420,290 L430,262 L440,268"/>
<circle cx="425" cy="165" r="4"/><circle cx="388" cy="258" r="2" class="k"/>
<circle cx="470" cy="293" r="12" stroke-width="1.4"/><circle cx="470" cy="293" r="5"/>
<circle cx="515" cy="340" r="13" fill="#555"/><circle cx="515" cy="338" r="5" fill="#ddd"/>
<path class="d" d="M430,270 L505,330"/>
<path d="M440,350 L465,306 M512,410 L514,355"/></g>
<g transform="translate(340 380) scale(0.19553)"><!-- plate -->
<path class="f" d="M105,225 L255,150 L325,112 L405,145 L455,125 L540,165 L560,185 L590,180 L660,220 L630,300 L610,310 L510,330 L490,315 L400,335 L290,385 L275,395 L240,330 L240,290 Z"/>
<path d="M105,225 L255,150 L325,112 M405,145 L455,125 L540,165 L560,185 L590,180 L660,220 M405,145 L395,152"/>
<path stroke-width="1.5" d="M478,185 L510,175 M395,240 L425,232 M470,275 L505,265 M600,245 L630,235"/>
<!-- front flange -->
</g><g transform="translate(335 400) scale(0.167598)">
<path class="f" d="M345,345 L350,325 L520,270 L540,275 L560,265 L600,260 L610,250 L630,255 L628,262 L625,290 L600,295 L585,320 L490,365 L470,370 L455,355 L405,380 L390,440 L355,450 Q342,452 340,440 Z"/>
<path d="M350,325 L520,270 L540,275 L560,265 L600,260 L610,250 L630,255 L720,222 M628,262 L720,232 M345,345 L340,440 Q342,452 355,450 L390,440 L405,380 L455,355 L470,370 L490,365 L585,320 L600,295 L625,290 L628,260 M405,380 L420,372 M455,355 L458,340 M420,400 L470,378 L480,385 L585,335 L620,300 L720,268"/>
<circle cx="362" cy="408" r="5"/><circle class="k" cx="460" cy="330" r="2.5"/><circle cx="605" cy="284" r="5"/>
<path stroke-width="1.5" d="M372,296 L420,283"/>
</g><g transform="translate(340 380) scale(0.195531)">
<!-- tab 1 -->
<path class="f" d="M40,245 L40,190 Q42,175 55,175 L88,180 Q100,184 100,198 L100,260 L165,320 L150,326 L100,310 L50,275 Z"/>
<path d="M40,245 L100,260 M52,262 L100,290 L150,326 M106,200 L106,258 L170,316"/>
<circle cx="65" cy="218" r="6"/>
<!-- tab 2 -->
<path class="f" d="M178,310 L178,258 Q180,243 195,243 L228,250 Q240,254 240,268 L240,330 L290,385 L275,395 L240,375 L185,335 Z"/>
<path d="M178,310 L240,330 M190,325 L240,355 L275,395 M246,270 L246,326"/>
<circle cx="200" cy="290" r="6"/><path stroke-width="1.4" d="M245,292 L262,292 M245,300 L262,300"/>
</g><g transform="translate(380 355) scale(0.125698)">
<path class="f" d="M75,370 L200,120 L215,108 L235,115 L300,180 L350,150 L490,205 L495,225 L440,255 L400,320 L340,400 L240,340 L215,360 L100,425 L80,415 Z"/>
<path d="M95,385 L210,135 M300,180 L215,330 L200,360 M300,180 L310,205 L440,255 M310,205 L240,340 M75,370 L95,385 L100,425 M215,330 L240,340 M400,320 L350,385 L330,400"/>
<circle cx="232" cy="155" r="8"/><path d="M245,210 L262,205 L265,230 L250,235 Z"/>
<circle cx="370" cy="170" r="6"/><circle cx="415" cy="187" r="6"/><circle cx="457" cy="210" r="5"/><circle cx="370" cy="272" r="8"/><circle cx="296" cy="320" r="8"/>
</g><g transform="translate(340 380) scale(0.195531)">
</g><g transform="translate(445 385) scale(0.125698)">
<path class="f" d="M130,440 L225,190 L240,175 L270,165 L300,160 L420,200 L435,215 L430,235 L380,250 L360,245 L355,290 L300,380 L250,412 L180,460 L150,447 Z"/>
<path d="M150,445 L245,200 L270,170 L360,245 M270,165 L300,160 L420,200 L435,215 L430,235 L380,250 L360,245 M150,445 L250,412 M130,440 L60,462 L0,472"/>
<circle cx="290" cy="137" r="14" fill="#777"/><circle cx="338" cy="156" r="14" fill="#777"/>
<circle cx="292" cy="212" r="6"/><circle cx="335" cy="236" r="5"/><circle cx="382" cy="206" r="5"/><path d="M322,282 L328,298 M296,345 L306,356"/>
<path d="M90,340 L130,325 L160,335 L120,356 Z"/>
</g><g transform="translate(340 380) scale(0.195531)">
<!-- 69, 70 -->
<ellipse cx="505" cy="60" rx="7" ry="5" stroke-width="1.4"/><circle cx="505" cy="102" r="9" fill="#555"/><circle cx="505" cy="101" r="3.5" fill="#ddd"/>
<path d="M565,48 L515,60 M575,118 L518,104"/></g>
<g transform="translate(395 305) scale(0.19553)"><path class="d" d="M218,198 L218,300 M218,330 L218,440"/>
<circle class="f" cx="218" cy="135" r="8"/><path class="f" d="M211,142 L211,195 L225,195 L225,142"/>
<ellipse class="k" cx="218" cy="225" rx="7" ry="4"/><ellipse cx="218" cy="268" rx="8" ry="5" stroke-width="1.6"/>
<path d="M170,90 L212,130 M180,205 L211,222 M170,250 L209,265"/>
<path class="f" d="M165,310 L200,290 L235,305 L215,330 L170,322 Z"/>
<path class="f" d="M215,300 L310,265 L315,325 L220,358 Z"/>
<path d="M165,310 L168,322 L215,336 M215,300 L200,292"/>
<circle cx="292" cy="298" r="5"/><circle cx="188" cy="306" r="4"/>
<path d="M312,210 L306,265"/>
<ellipse cx="225" cy="445" rx="8" ry="5" stroke-width="1.6"/><path d="M285,435 L238,445"/></g>
<g transform="translate(465 240) scale(0.19553)"><!-- left wheel -->
<ellipse class="f" cx="250" cy="172" rx="92" ry="127" transform="rotate(10 250 172)"/>
<ellipse cx="258" cy="172" rx="86" ry="122" transform="rotate(10 258 172)"/>
<ellipse cx="272" cy="176" rx="68" ry="100" stroke-width="1.3" transform="rotate(10 272 176)"/>
<ellipse class="f" cx="268" cy="182" rx="13" ry="17" stroke-width="1.2"/><ellipse cx="268" cy="182" rx="7" ry="10"/>
<path stroke-width="1.4" d="M145,112 L158,128 M152,110 L150,128"/>
<path d="M100,155 L148,124 M80,245 L160,215"/>
<path class="d" d="M290,195 L480,290"/></g>
<g transform="translate(576 270) scale(0.19553)"><ellipse class="f" cx="308" cy="368" rx="96" ry="138" transform="rotate(8 308 368)"/>
<ellipse cx="316" cy="368" rx="90" ry="132" transform="rotate(8 316 368)"/>
<ellipse cx="328" cy="366" rx="70" ry="106" stroke-width="1.3" transform="rotate(8 328 366)"/>
<ellipse class="f" cx="327" cy="362" rx="14" ry="19" stroke-width="1.2"/><ellipse cx="327" cy="362" rx="7" ry="11"/>
<path class="d" d="M290,335 L412,395"/>
<path stroke-width="1.4" d="M410,392 L420,408 M418,390 L414,408"/>
<path d="M488,335 L426,392"/></g>
<g transform="translate(465 320) scale(0.19553)"></g>
<g transform="translate(555 285) scale(0.12570)"><path class="f" d="M115,120 L190,152 L195,150 L425,272 L420,282 L502,322 Q510,338 495,350 L410,305 L405,310 L180,185 L180,178 L108,140 Q102,128 115,120 Z"/>
<path d="M190,152 L180,185 M425,272 L405,310"/><ellipse cx="500" cy="337" rx="6" ry="14"/>
<path d="M265,80 L262,190 M610,130 L608,240"/></g>
<g transform="translate(0 0) scale(1.00000)"><path class="f" d="M560.1,293.3 Q561.8,290.5 563.5,292.6 L569.8,315.9 L562.8,319.6 L547.8,325.3 L540.4,330.2 L530.4,339 L524.1,350.3 L520.3,360 L516.2,367.9 L516.2,378.7 L518.8,383 L516.8,384.9 L509,385.5 L499.2,373.8 L500.2,369.9 L507,366 L511.5,360 L522.8,337.7 L529.1,325.1 L536.5,315.2 L547.8,303.9 Z"/>
<path d="M561.3,294.6 L549,305 L537.8,316.2 L530.5,326 L524.2,338.5 L513,360.8 L508.2,367 M507,366 L500.2,369.9 L499.2,373.8 L509,385.5"/>
<path class="f" stroke-width="1.2" d="M547.1,316.5 L558.4,306.5 L561,313.4 L550.3,317.5 Z"/>
<circle cx="561" cy="297.9" r="1.2" stroke-width="1.3"/>
<circle cx="512.9" cy="380.6" r="1.4"/>
<path class="f" d="M531.4,278.2 Q533.3,275.5 535.2,277.5 L541.5,299.5 L533.9,303.9 L517.8,311.3 L506.5,317.6 L496.4,330.2 L487.6,347.8 L485.7,355.3 L486.9,359.1 L489.4,366.9 L488.1,368.1 L480.3,370.4 L469.9,358.1 L470.7,355.3 L472.5,351.5 L481.3,346.5 L496.4,313.8 L500,307.7 L507.5,298.9 L518.9,288.9 Z"/>
<path d="M532.6,279.6 L520,290.2 L508.8,300 L501.4,308.6 L497.8,314.6 L482.6,347.6 L474,352.4"/>
<path class="f" stroke-width="1.2" d="M517.6,300.2 L529.5,290.1 L531.4,297 L520.1,301.4 Z"/>
<circle cx="532.1" cy="282.6" r="1.2" stroke-width="1.3"/>
<path class="f" d="M497.9,314.8 L528.5,330.2 L524.1,334.6 L496.4,320.1 Q495,316.5 497.9,314.8 Z"/>
<ellipse class="f" cx="527.2" cy="332.9" rx="2.6" ry="3.6"/>
<path d="M534,345 L524.5,343.5"/></g>
<g transform="translate(500 350) scale(0.15363)"><path class="d" d="M235,272 L258,286 M280,300 L322,320 M342,332 L372,346"/>
<path class="f" d="M120,305 L175,288 L238,322 L240,340 L188,362 L112,322 Z"/>
<path d="M112,322 L188,350 L238,326 M188,350 L188,362"/>
<path class="f" stroke-width="1.3" d="M105,265 L215,215 Q232,212 232,228 L232,270 L112,318 Z"/>
<path d="M114,270 L118,312"/>
<circle cx="208" cy="258" r="5"/><ellipse cx="168" cy="314" rx="5" ry="3"/><ellipse cx="212" cy="330" rx="5" ry="3"/>
<ellipse class="f" cx="268" cy="292" rx="11" ry="16" stroke-width="1.4"/><ellipse cx="269" cy="292" rx="4" ry="8"/>
<ellipse class="f" cx="332" cy="325" rx="10" ry="14" stroke-width="1.7"/>
<path class="f" stroke-width="1.2" d="M378,340 L430,366 L424,380 L372,352 Z"/><ellipse class="f" cx="436" cy="382" rx="11" ry="15" stroke-width="1.4"/>
<path d="M218,170 L175,240 M305,250 L276,280 M405,295 L348,320 M500,380 L450,381"/></g>
<g transform="translate(465 320) scale(0.19553)"><circle cx="100" cy="235" r="11" fill="#666"/><circle cx="98" cy="233" r="4.5" fill="#eee"/>
<circle class="f" cx="140" cy="255" r="12" stroke-width="1.4"/><circle cx="140" cy="255" r="5.5"/>
<ellipse class="f" cx="172" cy="268" rx="9" ry="14" stroke-width="1.3"/><ellipse cx="173" cy="268" rx="4" ry="8"/>
<circle class="f" cx="285" cy="325" r="11"/><circle cx="285" cy="325" r="5"/>
<path d="M95,295 L132,266 M158,322 L170,283 M210,370 L276,331"/></g>
</g>
<g class="t" stroke="#222" stroke-width="0.22" text-anchor="middle" style="filter:grayscale(1)">
<text x="305" y="29.65" font-size="9.1" font-weight="normal" fill="#222">49</text>
<text x="417.5" y="50.15" font-size="9.1" font-weight="normal" fill="#222">48</text>
<text x="315" y="82.65" font-size="9.1" font-weight="normal" fill="#222">39</text>
<text x="323" y="95.65" font-size="9.1" font-weight="normal" fill="#222">40</text>
<text x="333.5" y="106.15" font-size="9.1" font-weight="normal" fill="#222">41</text>
<text x="305" y="96.65" font-size="9.1" font-weight="normal" fill="#222">36</text>
<text x="399" y="110.15" font-size="9.1" font-weight="normal" fill="#222">35</text>
<text x="296" y="111.65" font-size="9.1" font-weight="normal" fill="#222">37</text>
<text x="294" y="133.15" font-size="9.1" font-weight="normal" fill="#222">38</text>
<text x="332.5" y="159.15" font-size="9.1" font-weight="normal" fill="#222">42</text>
<text x="395.5" y="151.65" font-size="9.1" font-weight="normal" fill="#222">34</text>
<text x="371" y="162.65" font-size="9.1" font-weight="normal" fill="#222">33</text>
<text x="397.5" y="163.65" font-size="9.1" font-weight="normal" fill="#222">32</text>
<text x="424" y="61.65" font-size="9.1" font-weight="normal" fill="#222">47</text>
<text x="436" y="61.65" font-size="9.1" font-weight="normal" fill="#222">45</text>
<text x="454.5" y="69.65" font-size="9.1" font-weight="normal" fill="#222">44</text>
<text x="470.5" y="75.15" font-size="9.1" font-weight="normal" fill="#222">43</text>
<text x="419" y="89.65" font-size="9.1" font-weight="normal" fill="#222">46</text>
<text x="434" y="93.15" font-size="9.1" font-weight="normal" fill="#222">30</text>
<text x="461" y="106.65" font-size="9.1" font-weight="normal" fill="#222">29</text>
<text x="490" y="108.65" font-size="9.1" font-weight="normal" fill="#222">26</text>
<text x="518" y="109.65" font-size="9.1" font-weight="normal" fill="#222">24</text>
<text x="466.5" y="130.65" font-size="9.1" font-weight="normal" fill="#222">27</text>
<text x="507" y="151.15" font-size="9.1" font-weight="normal" fill="#222">25</text>
<text x="416" y="153.65" font-size="9.1" font-weight="normal" fill="#222">31</text>
<text x="438" y="173.15" font-size="9.1" font-weight="normal" fill="#222">28</text>
<text x="683" y="144.5" font-size="7.5" font-weight="bold" fill="#444">83</text>
<text x="550.5" y="166" font-size="7.5" font-weight="bold" fill="#444">84</text>
<text x="545.5" y="189" font-size="7.5" font-weight="bold" fill="#444">85</text>
<text x="555.5" y="199.5" font-size="7.5" font-weight="bold" fill="#444">86</text>
<text x="596" y="185" font-size="7.5" font-weight="bold" fill="#444">87</text>
<text x="580.5" y="205.5" font-size="7.5" font-weight="bold" fill="#444">87</text>
<text x="593.5" y="214" font-size="7.5" font-weight="bold" fill="#444">86</text>
<text x="615" y="224" font-size="7.5" font-weight="bold" fill="#444">85</text>
<text x="651.5" y="218" font-size="7.5" font-weight="bold" fill="#444">84</text>
<text x="76.5" y="242.65" font-size="9.1" font-weight="normal" fill="#222">63</text>
<text x="71.5" y="255.15" font-size="9.1" font-weight="normal" fill="#222">64</text>
<text x="103.5" y="268.15" font-size="9.1" font-weight="normal" fill="#222">65</text>
<text x="18.5" y="289.65" font-size="9.1" font-weight="normal" fill="#222">66</text>
<text x="11.5" y="455.15" font-size="9.1" font-weight="normal" fill="#222">55</text>
<text x="39.5" y="465.15" font-size="9.1" font-weight="normal" fill="#222">56</text>
<text x="98" y="461.65" font-size="9.1" font-weight="normal" fill="#222">57</text>
<text x="127.5" y="454.15" font-size="9.1" font-weight="normal" fill="#222">58</text>
<text x="99" y="418.15" font-size="9.1" font-weight="normal" fill="#222">54</text>
<text x="116.5" y="415.15" font-size="9.1" font-weight="normal" fill="#222">53</text>
<text x="166.5" y="312.15" font-size="9.1" font-weight="normal" fill="#222">62</text>
<text x="287" y="318.15" font-size="9.1" font-weight="normal" fill="#222">60</text>
<text x="311.5" y="319.15" font-size="9.1" font-weight="normal" fill="#222">61</text>
<text x="335.5" y="340.65" font-size="9.1" font-weight="normal" fill="#222">59</text>
<text x="215" y="388.65" font-size="9.1" font-weight="normal" fill="#222">50</text>
<text x="228.5" y="395.15" font-size="9.1" font-weight="normal" fill="#222">52</text>
<text x="175.3" y="410.65" font-size="9.1" font-weight="normal" fill="#222">52</text>
<text x="193.7" y="406.65" font-size="9.1" font-weight="normal" fill="#222">51</text>
<text x="212.4" y="409.65" font-size="9.1" font-weight="normal" fill="#222">50</text>
<text x="238" y="365.65" font-size="9.1" font-weight="normal" fill="#222">51</text>
<text x="309.5" y="464.15" font-size="9.1" font-weight="normal" fill="#222">53</text>
<text x="323.5" y="475.15" font-size="9.1" font-weight="normal" fill="#222">54</text>
<text x="455.8" y="390.65" font-size="9.1" font-weight="normal" fill="#222">69</text>
<text x="458.3" y="405.65" font-size="9.1" font-weight="normal" fill="#222">70</text>
<text x="424.7" y="321.15" font-size="9.1" font-weight="normal" fill="#222">67</text>
<text x="424" y="344.15" font-size="9.1" font-weight="normal" fill="#222">68</text>
<text x="422.4" y="355.15" font-size="9.1" font-weight="normal" fill="#222">69</text>
<text x="457.2" y="344.15" font-size="9.1" font-weight="normal" fill="#222">71</text>
<text x="479.7" y="274.65" font-size="9.1" font-weight="normal" fill="#222">79</text>
<text x="474.5" y="291.15" font-size="9.1" font-weight="normal" fill="#222">80</text>
<text x="588.5" y="293.65" font-size="9.1" font-weight="normal" fill="#222">81</text>
<text x="632.3" y="298.65" font-size="9.1" font-weight="normal" fill="#222">80</text>
<text x="673.5" y="332.15" font-size="9.1" font-weight="normal" fill="#222">79</text>
<text x="541" y="347.65" font-size="9.1" font-weight="normal" fill="#222">82</text>
<text x="479.7" y="383.15" font-size="9.1" font-weight="normal" fill="#222">78</text>
<text x="494.7" y="389.15" font-size="9.1" font-weight="normal" fill="#222">77</text>
<text x="501.2" y="397.15" font-size="9.1" font-weight="normal" fill="#222">76</text>
<text x="537" y="373.15" font-size="9.1" font-weight="normal" fill="#222">75</text>
<text x="553" y="387.15" font-size="9.1" font-weight="normal" fill="#222">74</text>
<text x="569" y="395.15" font-size="9.1" font-weight="normal" fill="#222">73</text>
<text x="583.3" y="411.65" font-size="9.1" font-weight="normal" fill="#222">72</text>
</g>
</svg>
</body></html>
